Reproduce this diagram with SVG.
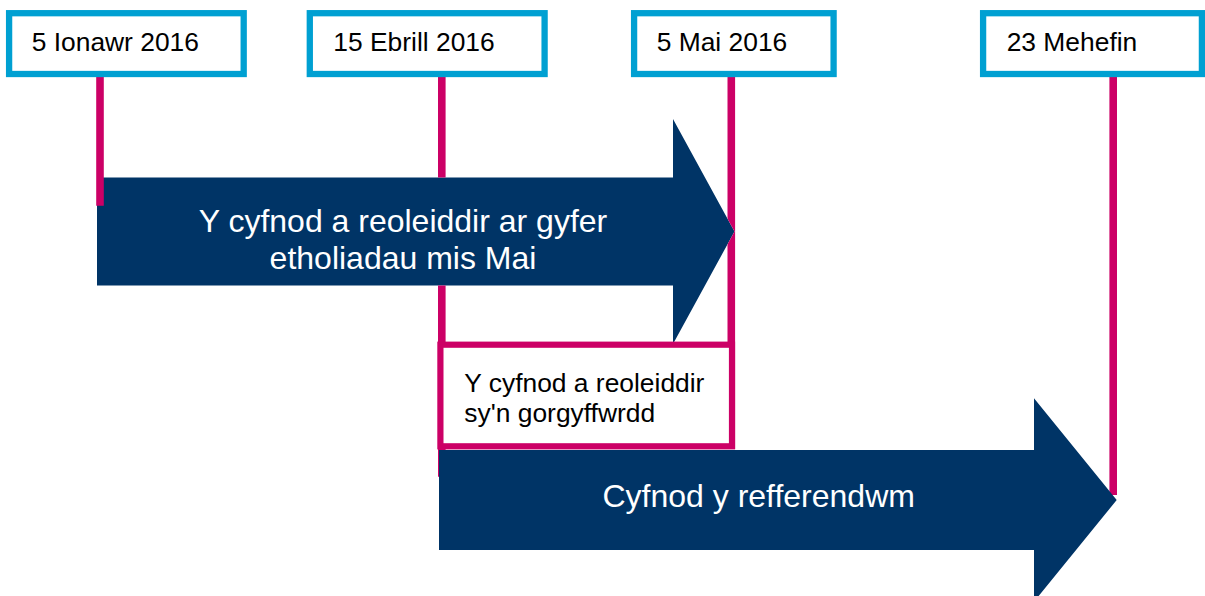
<svg xmlns="http://www.w3.org/2000/svg" width="1205" height="596" viewBox="0 0 1205 596">
<style>
.date{fill:#ffffff;stroke:#00A0D2;stroke-width:6.3}
.dt{font-family:"Liberation Sans",Arial,sans-serif;font-size:26.4px;fill:#000000}
.arrow{fill:#003466}
.at{font-family:"Liberation Sans",Arial,sans-serif;font-size:32px;fill:#ffffff;text-anchor:middle}
.pl{stroke:#CC0066;stroke-width:7.6;fill:none}
.ov{fill:#ffffff;stroke:#CC0066;stroke-width:6.2}
</style>
<defs>
<clipPath id="behind-arrow1">
<path clip-rule="evenodd" d="M0,0 H1205 V596 H0 Z M97,177.5 H673 V119 L734.5,231.5 L673,344 V285.5 H97 Z"/>
</clipPath>
</defs>
<rect width="1205" height="596" fill="#ffffff"/>
<g id="arrow-elections">
<polygon class="arrow" points="97,177.5 673,177.5 673,119 734.5,231.5 673,344 673,285.5 97,285.5"/>
<text class="at" x="403" y="231.7">Y cyfnod a reoleiddir ar gyfer</text>
<text class="at" x="403" y="269">etholiadau mis Mai</text>
</g>
<g id="connectors">
<line class="pl" x1="100" y1="74" x2="100" y2="205.7"/>
<line class="pl" x1="441.8" y1="74" x2="441.8" y2="476.7" clip-path="url(#behind-arrow1)"/>
<line class="pl" x1="731.3" y1="74" x2="731.3" y2="449" clip-path="url(#behind-arrow1)"/>
<line class="pl" x1="1113.2" y1="74" x2="1113.2" y2="495"/>
</g>
<g id="overlap">
<rect class="ov" x="440.4" y="344.7" width="291.6" height="101.6"/>
<text class="dt" x="464.3" y="392.3">Y cyfnod a reoleiddir</text>
<text class="dt" x="464.3" y="421.7">sy'n gorgyffwrdd</text>
</g>
<g id="arrow-referendum">
<polygon class="arrow" points="439,450 1034,450 1034,398.3 1116.7,500 1034,601.7 1034,550 439,550"/>
<text class="at" x="758.7" y="506.7">Cyfnod y refferendwm</text>
</g>
<g id="date-1">
<rect class="date" x="9.1" y="13.2" width="234.6" height="60.8"/>
<text class="dt" x="31.7" y="50.7">5 Ionawr 2016</text>
</g>
<g id="date-2">
<rect class="date" x="309.8" y="13.2" width="234.8" height="60.8"/>
<text class="dt" x="333.3" y="50.7">15 Ebrill 2016</text>
</g>
<g id="date-3">
<rect class="date" x="634.1" y="13.2" width="199.5" height="60.8"/>
<text class="dt" x="656.7" y="50.7">5 Mai 2016</text>
</g>
<g id="date-4">
<rect class="date" x="983.1" y="13.2" width="218.8" height="60.8"/>
<text class="dt" x="1006.7" y="50.7">23 Mehefin</text>
</g>
</svg>
